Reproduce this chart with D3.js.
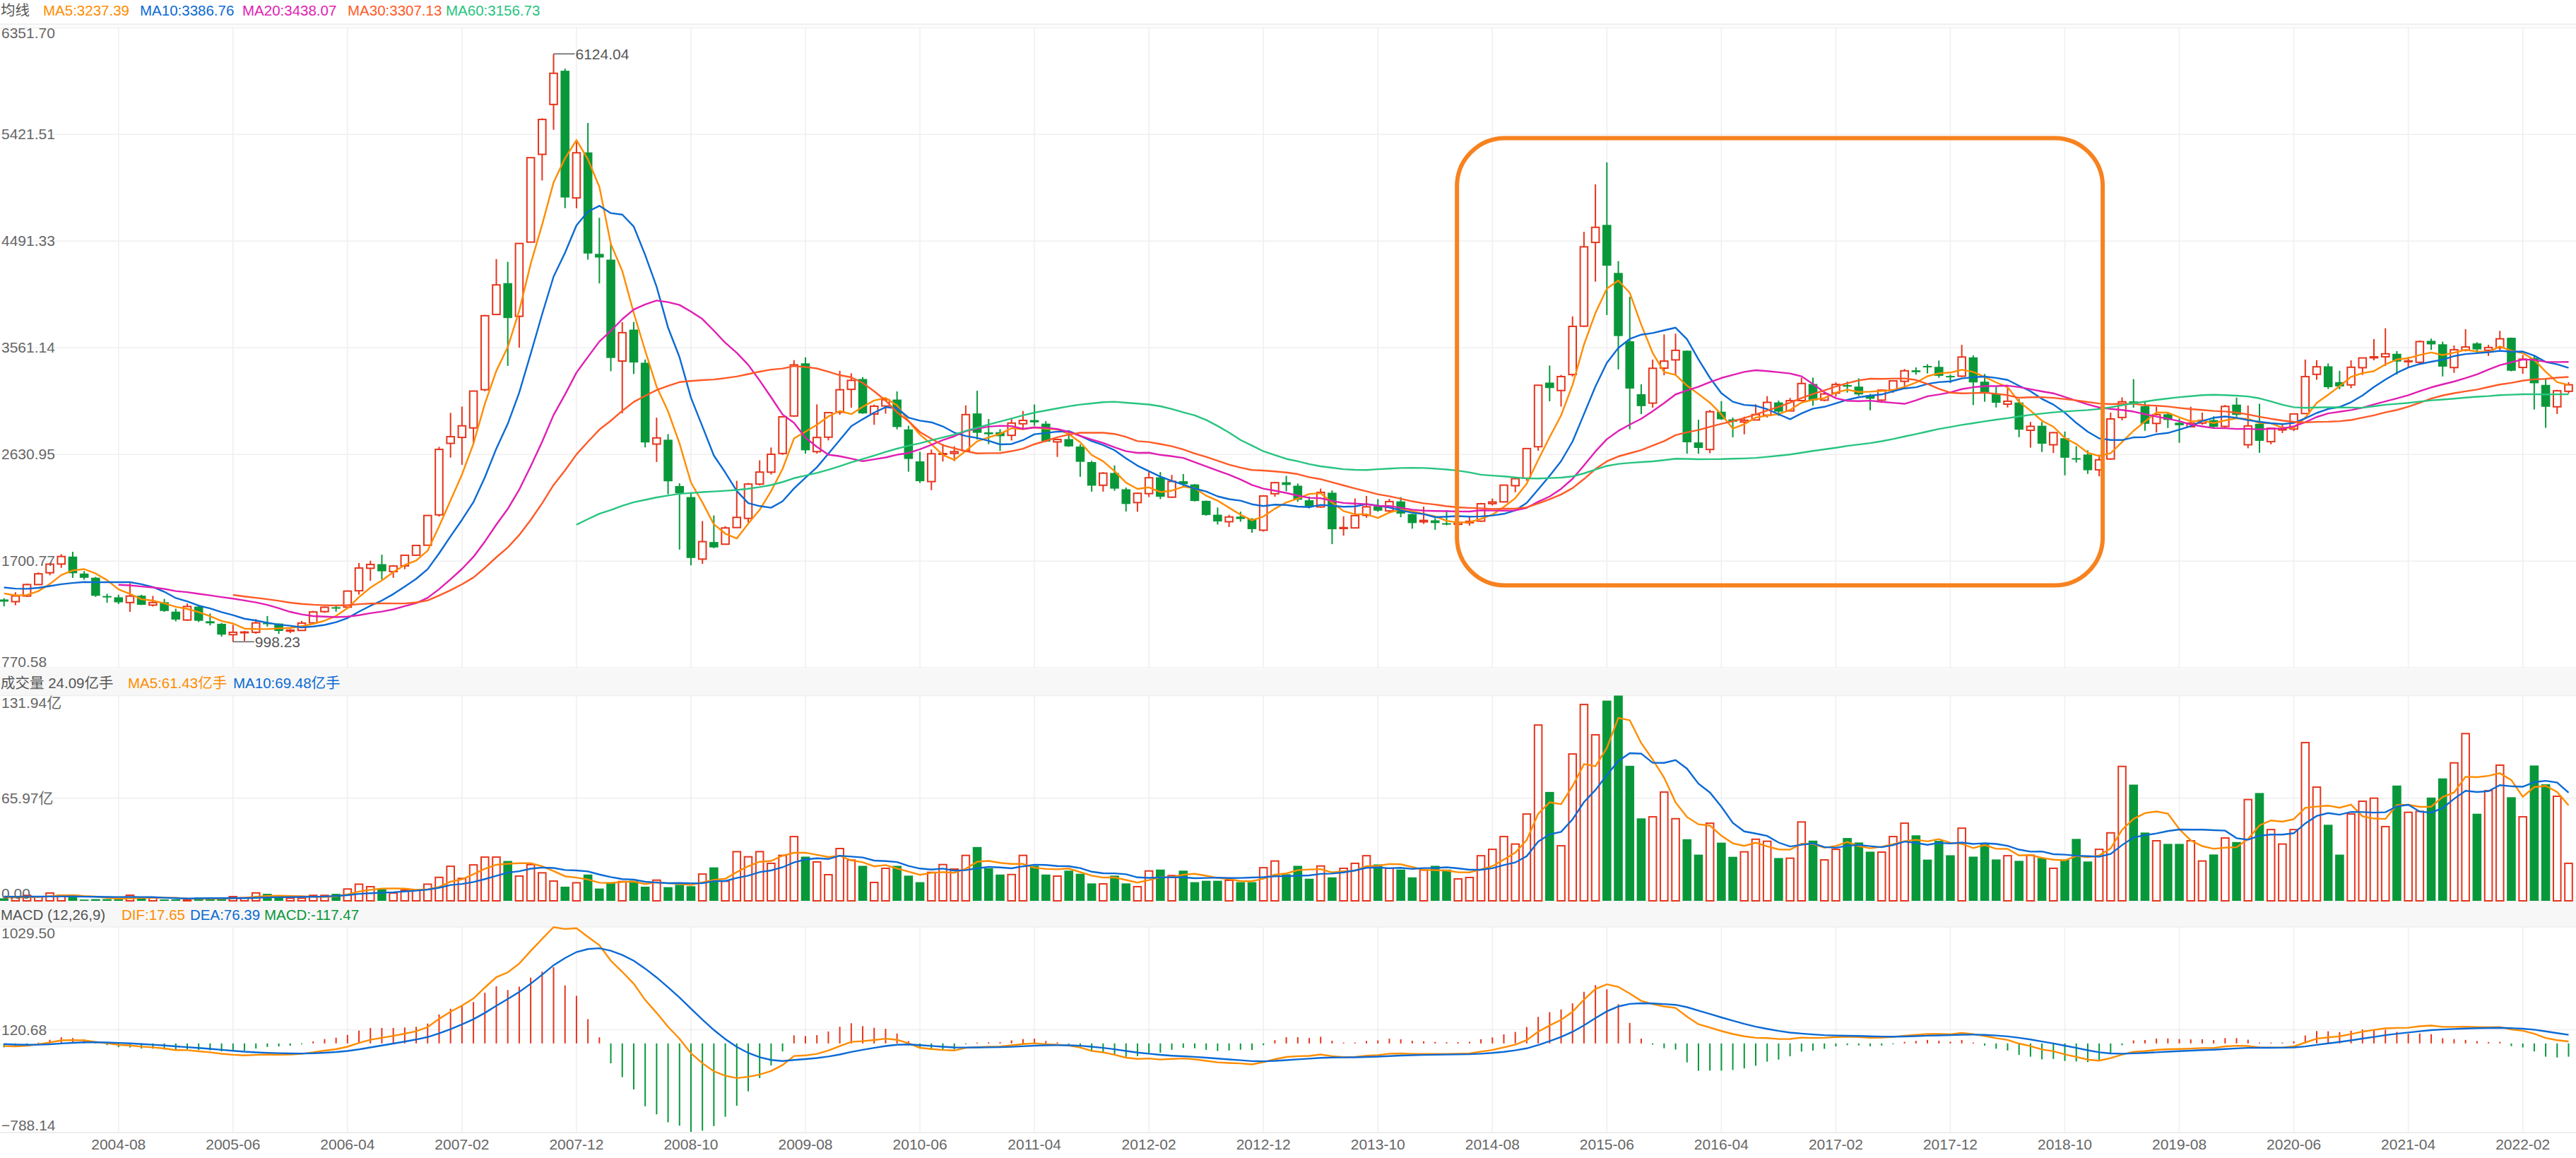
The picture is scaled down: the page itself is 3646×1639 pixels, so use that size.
<!DOCTYPE html>
<html>
<head>
<meta charset="utf-8">
<script src="https://cdnjs.cloudflare.com/ajax/libs/d3/7.8.5/d3.min.js"></script>
<style>
html,body{margin:0;padding:0;background:#fff;}
svg{display:block;}
text{font-family:"Liberation Sans",Arial,"Noto Sans CJK SC",sans-serif;}
</style>
</head>
<body>
<svg id="chart" width="3646" height="1639"></svg>
<script>
// ---------------- DATA (monthly, 2003-01 .. 2022-06; first 9 months only feed the averages) ----------------
const months = [];
for (let y = 2003; y <= 2022; y++) for (let m = 1; m <= 12; m++) {
  if (y === 2022 && m > 6) break;
  months.push(y + "-" + String(m).padStart(2, "0"));
}
const firstVisible = "2003-10";

const opens = [
1347,1500,1512,1511,1522,1577,1486,1477,1421,1367,1348,1397,
1497,1600,1676,1741,1593,1557,1397,1386,1340,1400,1318,1343,
1261,1188,1305,1177,1155,1060,1078,1081,1164,1157,1091,1097,
1163,1261,1299.5,1300,1443,1639,1675,1610,1660,1753,1840,2105,
2728,2780,2863,3196,3852,4125,3836,4483,5248,5683,5977,4868,
5265,4380,4330,3446,3720,3431,2722,2760,2356,2260,1719,1868,
1849,1994,2074,2373,2477,2640,2967,3426,2656,2782,2999,3199,
3289,2984,3054,3110,2850,2571,2395,2637,2641,2664,2989,2824,
2825,2798,2899,2931,2900,2741,2765,2700,2565,2363,2470,2328,
2212,2290,2432,2259,2398,2370,2227,2106,2045,2089,2070,1971,
2289,2389,2359,2232,2174,2298,1986,1991,2100,2180,2139,2222,
2112,2044,2057,2032,2022,2036,2050,2203,2218,2359,2425,2699,
3258,3189,3328,3750,4480,4633,4214,3618,3157,3079,3384,3456,
3536,2736,2675,3004,2937,2914,2932,2974,3085,3011,3101,3246,
3105,3167,3236,3223,3147,3105,3194,3269,3365,3403,3395,3316,
3314,3478,3266,3163,3070,3084,2842,2882,2716,2773,2599,2631,
2497,2592,2954,3094,3052,2902,2982,2908,2873,2905,2931,2876,
3066,2716,2899,2743,2845,2853,2988,3330,3400,3262,3238,3388,
3474,3483,3509,3441,3435,3622,3592,3389,3540,3600,3540,3562,
3649,3390,3472,3238,3047,3182];

const highs = [
1502,1520,1531,1649.6,1578,1580,1519,1495,1425,1378,1430,1506,
1603,1686,1762,1783.01,1614,1564,1417,1409,1509,1408,1398,1372,
1287,1332,1318,1245,1163,1146,1093,1195,1223,1158,1109,1180,
1268,1306,1309,1445,1685,1705,1757,1667,1753,1841,2100,2698,
2994,3049,3184,3848,4335,4311,4472,5220,5562,6124.04,5995,5355,
5522,4695,4472,3786,3786,3459,2952,2809,2380,2302,2051,2100,
2006,2402,2383,2580,2692,2967,3454,3478.01,3068,3000,3361,3339,
3306,3066,3127,3181,2882,2654,2674,2723,2703,3059,3186.72,2941,
2852,2951,3011,3067.46,2922,2770,2826,2720,2576,2478,2536,2343,
2300,2478,2478,2453,2461,2373,2229,2169,2105,2133,2076,2276,
2393,2444.8,2378,2264,2334,2318,2092,2248,2270,2242,2244,2260,
2113,2177,2076,2146,2062,2087,2209,2248,2366,2424,2686,3239,
3406.79,3325,3835,4572,4986,5178.19,4317,4006,3243,3459,3678,3684.57,
3538,2934,3019,3097,2953,2961,3069,3140,3101,3124,3301,3301,
3174,3260,3267,3295,3159,3193,3276,3376,3391,3418,3450,3328,
3587.03,3495,3333,3220,3219,3114,2915,2915,2827,2831,2703,2667,
2630,2997,3129,3288.45,3097,3048,2992,2944,3048,2997,2964,3063,
3127,3058,3074,2862,2904,2988,3458.79,3453,3425,3361,3452,3474,
3637,3731.69,3533,3481,3625,3641,3615,3582,3723.85,3610,3587,3708.94,
3651,3499,3493,3296,3195,3262];

const lows = [
1311,1452,1471,1474,1490,1479,1470,1420,1357,1307,1317,1390,
1496,1578,1643,1555,1540,1390,1338,1327,1259.43,1318,1306,1259,
1176,1180,1170,1141,1043,998.23,1004,1068,1131,1067,1074,1096,
1161,1250,1260,1299,1409,1530,1541,1556,1631,1747,1838,2089,
2604,2541,2723,3183,3848,3404,3563,4483,5020,5462,4779,4778,
4330,4123,3357,2990,3333,2693,2566,2284,1802,1664.93,1678,1814,
1844,1991,2037,2362,2457,2627,2960,2639,2639,2754,2978,3039,
2986,2890,2987,2850,2481,2383,2320,2570,2573,2654,2762,2721,
2661,2753,2856,2881,2740,2610,2698,2437,2307,2307,2315,2134,
2132,2260,2242,2254,2349,2222,2098,2020,1999,2045,1949,1959,
2263,2310,2219,2161,2166,1849.65,1924,1990,2080,2132,2118,2084,
1984,2026,1974,2014,1991,2011,2043,2187,2212,2302,2402,2664,
3095,3049,3311,3743,4138,3847,3373,2850.71,2983,3039,3322,3327,
2638.3,2638,2643,2934,2781,2807,2929,2953,2968,3008,3095,3056,
3095,3134,3171,3141,3016,3082,3168,3211,3327,3338,3300,3254,
3307,3062,3091,3041,3041,2782,2691,2653,2644,2449.2,2561,2462,
2440.91,2584,2929,3039,2838,2823,2862,2733,2872,2891,2857,2857,
2960,2685.27,2646,2720,2818,2835,2983,3283,3202,3200,3209,3325,
3452,3403,3328,3390,3416,3543,3312,3343,3530,3515,3490,3544,
3356,3335,3023,2863.65,2984,3163];

const closes = [
1499.81,1511.93,1510.48,1521.44,1576.26,1486.02,1476.74,1421.38,1367.16,1348.30,1397.22,1497.04,
1590.73,1675.07,1741.62,1595.59,1555.91,1399.16,1386.20,1342.06,1396.70,1320.54,1340.77,1266.50,
1191.82,1306.00,1181.24,1159.15,1060.74,1080.94,1083.03,1162.80,1155.61,1092.82,1099.26,1161.06,
1258.05,1299.03,1298.30,1440.22,1641.30,1672.21,1612.73,1658.64,1752.42,1837.99,2099.29,2675.47,
2786.34,2881.07,3183.98,3841.27,4109.65,3820.70,4471.03,5218.82,5552.30,5954.77,4871.78,5261.56,
4383.39,4348.54,3472.71,3693.11,3433.35,2736.10,2775.72,2397.37,2293.78,1728.79,1871.16,1820.81,
1990.66,2082.85,2373.21,2477.57,2632.93,2959.36,3412.06,2667.75,2779.43,2995.85,3195.30,3277.14,
2989.29,3051.94,3109.10,2870.61,2592.15,2398.37,2637.50,2638.80,2655.66,2978.84,2820.18,2808.08,
2790.69,2905.05,2928.11,2911.51,2743.47,2762.08,2701.73,2567.34,2359.22,2468.25,2333.41,2199.42,
2292.61,2428.49,2262.79,2396.32,2372.23,2225.43,2103.63,2047.52,2086.17,2068.88,1980.12,2269.13,
2385.42,2365.59,2236.62,2177.91,2300.59,1979.21,1993.80,2098.38,2174.67,2141.61,2220.50,2115.98,
2033.08,2056.30,2033.31,2026.36,2039.21,2048.33,2201.56,2217.20,2363.87,2420.18,2682.84,3234.68,
3210.36,3310.30,3747.90,4441.66,4611.74,4277.22,3663.73,3205.99,3052.78,3382.56,3445.40,3539.18,
2737.60,2687.98,3003.92,2938.32,2916.62,2929.61,2979.34,3085.49,3004.70,3100.49,3250.03,3103.64,
3159.17,3241.73,3222.51,3154.66,3117.18,3192.43,3273.03,3360.81,3348.94,3393.34,3317.19,3307.17,
3480.83,3259.41,3168.90,3082.23,3095.47,2847.42,2876.40,2725.25,2821.35,2602.78,2588.19,2493.90,
2584.57,2940.95,3090.76,3078.34,2898.70,2978.88,2932.51,2886.24,2905.19,2929.06,2871.98,3050.12,
2976.53,2880.30,2750.30,2860.08,2852.35,2984.67,3310.01,3395.68,3218.05,3224.53,3391.76,3473.07,
3483.07,3509.08,3441.91,3446.86,3615.48,3591.20,3397.36,3543.94,3568.17,3547.34,3563.89,3639.78,
3361.44,3462.31,3252.20,3047.06,3186.43,3238.95];

// volume, 亿手
const volumes = [
3.5,2.5,3.0,4.5,3.5,2.5,2.5,2.0,2.0,1.6,2.3,3.5,
2.7,5.0,3.5,3.3,0.8,1.1,1.1,1.1,3.6,2.4,2.0,0.9,
0.9,0.6,2.1,2.1,1.1,2.7,2.0,5.1,4.5,2.0,1.7,1.7,
3.5,3.5,4.5,7.6,10.7,9.1,7.6,5.0,6.8,6.8,10.7,15.1,
22.2,14.4,23.1,28.1,28.1,25.6,15.9,23.3,18.0,12.7,9.1,11.6,
16.9,7.9,11.8,12.4,12.9,9.1,13.3,8.8,10.3,9.4,17.2,21.5,
12.6,31.6,28.3,31.6,24.1,29.2,41.3,28.4,25.0,16.8,33.6,26.2,
22.5,11.8,20.9,22.5,16.2,12.0,18.3,23.3,20.4,29.2,34.6,20.9,
16.9,16.9,29.2,22.5,16.9,15.9,19.4,17.4,11.2,10.9,16.2,11.2,
9.1,19.2,20.1,16.2,19.4,12.0,12.9,12.9,13.2,12.0,12.0,21.3,
25.6,17.1,22.5,14.2,22.4,15.1,20.9,24.1,29.0,23.4,20.9,20.1,
15.1,19.8,22.5,20.1,14.1,15.0,29.0,33.1,41.3,36.5,55.8,113.0,
70.0,35.4,94.4,126.2,106.7,128.7,131.94,86.8,53.0,54.0,69.9,52.8,
39.6,29.7,49.9,37.4,28.3,31.5,39.6,38.3,27.5,27.4,50.7,38.7,
26.3,33.1,40.4,37.5,31.6,31.3,41.3,49.9,42.1,26.5,38.6,29.3,
46.7,28.4,36.3,26.6,29.0,25.7,29.3,27.5,20.9,26.6,39.8,25.3,
33.1,43.7,86.4,74.7,43.9,38.6,36.6,36.6,38.6,25.6,29.8,40.4,
37.8,65.1,69.3,45.8,36.5,45.8,101.7,73.1,48.9,29.7,55.8,64.0,
66.0,47.7,74.1,56.9,57.5,66.4,78.7,88.7,107.5,56.0,70.8,87.2,
66.6,54.0,87.0,74.9,67.2,24.09];

const xTickLabels = ["2004-08","2005-06","2006-04","2007-02","2007-12","2008-10","2009-08","2010-06","2011-04",
  "2012-02","2012-12","2013-10","2014-08","2015-06","2016-04","2017-02","2017-12","2018-10","2019-08",
  "2020-06","2021-04","2022-02"];
const priceDomain = [770.58, 6351.70];
const volumeDomain = [0, 131.94];
const macdDomain = [-788.14, 1029.50];
const maPeriods = [5, 10, 20, 30, 60];
const priceHeader = ["MA5:3237.39","MA10:3386.76","MA20:3438.07","MA30:3307.13","MA60:3156.73"];
const volumeHeader = ["成交量 24.09亿手","MA5:61.43亿手","MA10:69.48亿手"];
const macdHeader = ["MACD (12,26,9)","DIF:17.65","DEA:76.39","MACD:-117.47"];
const highlight = {from:"2014-05", to:"2019-01", top:5390, bottom:1490};

// ---------------- STYLE ----------------
const W = 3646, H = 1639;
const RED = "#e6351c", GREEN = "#08983a";
const MA_COLORS = ["#ff8c00","#0b6ad4","#e01eb2","#ff5a26","#28c480"];
const LABEL = "#666", GRID = "#efefef";

// ---------------- DERIVED ----------------
const F = months.indexOf(firstVisible);
const N = months.length - F;
const vis = d3.range(N).map(i => ({
  i, date: months[F+i], o: opens[F+i], h: highs[F+i], l: lows[F+i], c: closes[F+i], v: volumes[F+i]
}));
function movingAvg(arr, n) {
  return arr.map((_, k) => k < n-1 ? null : d3.mean(arr.slice(k-n+1, k+1)));
}
function ema(arr, n) {
  const a = 2/(n+1); const out = []; let prev = arr[0];
  arr.forEach((v,k)=>{ prev = k===0 ? v : a*v + (1-a)*prev; out.push(prev); });
  return out;
}
const e12 = ema(closes, 12), e26 = ema(closes, 26);
const dif = closes.map((_,k)=>e12[k]-e26[k]);
const dea = ema(dif, 9);
const macd = dif.map((d,k)=>2*(d-dea[k]));

// ---------------- SCALES ----------------
const x = d3.scaleBand().domain(d3.range(N)).range([-2.4, W-2.4]).padding(0);
const bw = x.bandwidth();
const xc = i => x(i) + bw/2;
const yP = d3.scaleLinear().domain(priceDomain).range([945.3, 39.3]);
const yV = d3.scaleLinear().domain(volumeDomain).range([1275, 984.5]);
const yM = d3.scaleLinear().domain(macdDomain).range([1603, 1312]);

const svg = d3.select("#chart");
svg.append("rect").attr("width", W).attr("height", H).attr("fill", "#fff");

// header bands
svg.append("rect").attr("x",0).attr("y",33).attr("width",W).attr("height",3).attr("fill","#f3f3f3");
svg.append("rect").attr("x",0).attr("y",947).attr("width",W).attr("height",38).attr("fill","#f7f7f7");
svg.append("rect").attr("x",0).attr("y",1276).attr("width",W).attr("height",36).attr("fill","#f7f7f7");

// ---------------- GRID ----------------
const tickIdx = xTickLabels.map(l => months.indexOf(l) - F);
const grid = svg.append("g").attr("stroke", GRID).attr("stroke-width", 1.5);
const panels = [[39.3,945.3],[984.5,1275],[1312,1603]];
tickIdx.forEach(i => panels.forEach(([a,b]) => {
  grid.append("line").attr("x1",xc(i)).attr("x2",xc(i)).attr("y1",a).attr("y2",b);
}));
const pTicks = d3.range(7).map(k => priceDomain[0] + k*(priceDomain[1]-priceDomain[0])/6);
const vTicks = d3.range(3).map(k => volumeDomain[0] + k*(volumeDomain[1]-volumeDomain[0])/2);
const mTicks = d3.range(3).map(k => macdDomain[0] + k*(macdDomain[1]-macdDomain[0])/2);
pTicks.forEach(t => grid.append("line").attr("x1",0).attr("x2",W).attr("y1",yP(t)).attr("y2",yP(t)));
vTicks.forEach(t => grid.append("line").attr("x1",0).attr("x2",W).attr("y1",yV(t)).attr("y2",yV(t)));
mTicks.forEach(t => grid.append("line").attr("x1",0).attr("x2",W).attr("y1",yM(t)).attr("y2",yM(t)));

// ---------------- CANDLES ----------------
const gC = svg.append("g");
vis.forEach(d => {
  const up = d.c >= d.o;
  const col = up ? RED : GREEN;
  gC.append("line").attr("x1",xc(d.i)).attr("x2",xc(d.i)).attr("y1",yP(d.h)).attr("y2",yP(d.l))
    .attr("stroke",col).attr("stroke-width",2);
  if (up) {
    const y0 = yP(d.c), y1 = yP(d.o);
    gC.append("rect").attr("x",xc(d.i)-5.3).attr("width",10.6).attr("y",y0).attr("height",Math.max(y1-y0,1))
      .attr("fill","#fff").attr("stroke",RED).attr("stroke-width",2);
  } else {
    const y0 = yP(d.o), y1 = yP(d.c);
    gC.append("rect").attr("x",xc(d.i)-6.3).attr("width",12.6).attr("y",y0).attr("height",Math.max(y1-y0,2))
      .attr("fill",GREEN);
  }
});

// ---------------- MOVING AVERAGES ----------------
maPeriods.forEach((n, k) => {
  const ma = movingAvg(closes, n).slice(F);
  const line = d3.line().defined(v => v != null).x((v,i)=>xc(i)).y(v=>yP(v));
  svg.append("path").attr("d", line(ma)).attr("fill","none").attr("stroke",MA_COLORS[k]).attr("stroke-width",2.4)
    .attr("stroke-linejoin","round");
});

// max / min annotations
const maxD = vis.reduce((a,b)=> b.h > a.h ? b : a);
const minD = vis.reduce((a,b)=> b.l < a.l ? b : a);
[[maxD, maxD.h],[minD, minD.l]].forEach(([d,val]) => {
  const yy = yP(val);
  svg.append("line").attr("x1",xc(d.i)).attr("x2",xc(d.i)+30).attr("y1",yy).attr("y2",yy)
    .attr("stroke","#666").attr("stroke-width",1.6);
  svg.append("text").attr("x",xc(d.i)+31).attr("y",yy).attr("dominant-baseline","central")
    .attr("font-size",21).attr("fill","#555").text(d3.format(".2f")(val));
});

// highlight box
{
  const i0 = months.indexOf(highlight.from)-F, i1 = months.indexOf(highlight.to)-F;
  const x0 = xc(i0)-1.5, x1 = xc(i1)+5;
  const y0 = yP(highlight.top), y1 = yP(highlight.bottom);
  svg.append("rect").attr("x",x0).attr("y",y0).attr("width",x1-x0).attr("height",y1-y0)
    .attr("rx",68).attr("ry",68).attr("fill","none").attr("stroke","#f7821f").attr("stroke-width",6);
}

// ---------------- VOLUME ----------------
const gV = svg.append("g");
vis.forEach(d => {
  const up = d.c >= d.o;
  const y0 = yV(d.v), y1 = yV(0);
  if (up) gV.append("rect").attr("x",xc(d.i)-5.3).attr("width",10.6).attr("y",y0).attr("height",Math.max(y1-y0,1))
      .attr("fill","#fff").attr("stroke",RED).attr("stroke-width",2);
  else gV.append("rect").attr("x",xc(d.i)-6.3).attr("width",12.6).attr("y",y0).attr("height",Math.max(y1-y0,1))
      .attr("fill",GREEN);
});
[5,10].forEach((n,k) => {
  const ma = movingAvg(volumes, n).slice(F);
  const line = d3.line().defined(v => v != null).x((v,i)=>xc(i)).y(v=>yV(v));
  svg.append("path").attr("d", line(ma)).attr("fill","none").attr("stroke",MA_COLORS[k]).attr("stroke-width",2.4);
});

// ---------------- MACD ----------------
const gM = svg.append("g");
const z = yM(0);
vis.forEach(d => {
  const m = macd[F+d.i];
  let ym = yM(m);
  if (Math.abs(ym - z) < 1.2) ym = z + (m >= 0 ? -1.2 : 1.2);
  gM.append("line").attr("x1",xc(d.i)).attr("x2",xc(d.i)).attr("y1",z).attr("y2",ym)
    .attr("stroke", m >= 0 ? RED : GREEN).attr("stroke-width",2);
});
[[dif, MA_COLORS[0]], [dea, MA_COLORS[1]]].forEach(([arr,col]) => {
  const line = d3.line().x((v,i)=>xc(i)).y(v=>yM(v));
  svg.append("path").attr("d", line(arr.slice(F))).attr("fill","none").attr("stroke",col).attr("stroke-width",2.4);
});

// bottom line
svg.append("line").attr("x1",0).attr("x2",W).attr("y1",1603).attr("y2",1603).attr("stroke","#eeeeee").attr("stroke-width",2);

// ---------------- AXES LABELS ----------------
function yAxis(scale, vals, fmt, topOff, botOff) {
  const g = svg.append("g").call(d3.axisRight(scale).tickValues(vals).tickSize(0).tickPadding(2).tickFormat(fmt));
  g.select(".domain").remove();
  g.attr("font-size", null).attr("font-family", null);
  g.selectAll("text").attr("fill", LABEL).attr("font-size", 21).attr("dy", null)
    .attr("dominant-baseline","central")
    .attr("y", (v) => v === vals[vals.length-1] ? topOff : (v === vals[0] ? botOff : -1));
}
yAxis(yP, pTicks, d3.format(".2f"), 7, -9);
yAxis(yV, vTicks, v => v === 0 ? "0.00" : d3.format(".2f")(v) + "亿", 9, -11);
yAxis(yM, mTicks, d3.format(".2f"), 8, -11);

const gx = svg.append("g").attr("transform","translate(0,1603)")
  .call(d3.axisBottom(x).tickValues(tickIdx).tickFormat(i => months[F+i]).tickSize(0).tickPadding(9));
gx.select(".domain").remove();
gx.attr("font-size", null).attr("font-family", null);
gx.selectAll("text").attr("fill", LABEL).attr("font-size", 21);

// ---------------- HEADERS ----------------
function header(y, items, xs, colors) {
  items.forEach((t,k) => svg.append("text").attr("x", xs[k]).attr("y", y).attr("dominant-baseline","central")
    .attr("font-size", 20.5).attr("fill", colors[k]).text(t));
}
header(14, ["均线"].concat(priceHeader), [1, 61, 198, 343, 492, 631], ["#555"].concat(MA_COLORS));
header(966, volumeHeader, [1, 181, 330], ["#555", MA_COLORS[0], MA_COLORS[1]]);
header(1294, macdHeader, [1, 172, 269, 374], ["#555", MA_COLORS[0], MA_COLORS[1], GREEN]);
</script>
</body>
</html>
